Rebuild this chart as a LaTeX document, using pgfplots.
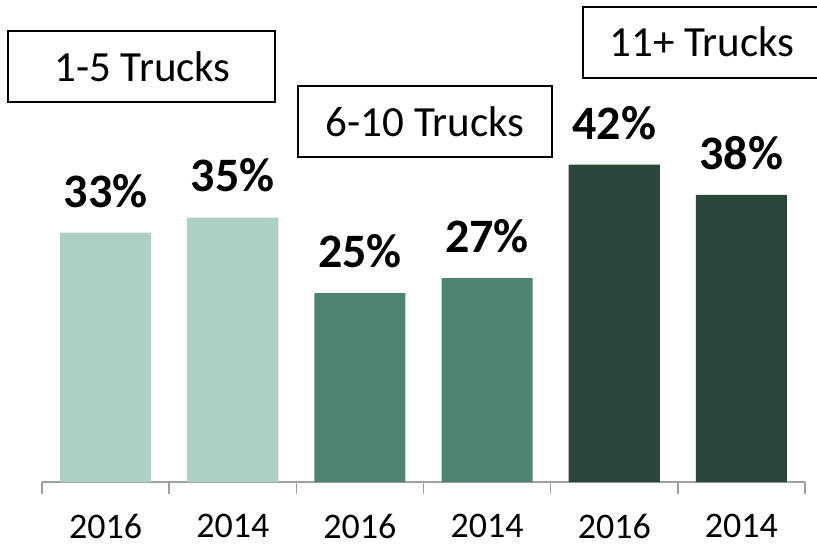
\documentclass[border=0pt]{standalone}
\usepackage{pgfplots}
\pgfplotsset{compat=1.18}
\usepackage{fontspec}
\setmainfont{Carlito}
\definecolor{cLight}{HTML}{AECFC3}
\definecolor{cMid}{HTML}{4E8570}
\definecolor{cDark}{HTML}{2B4539}
\definecolor{axgray}{HTML}{A0A0A0}
\begin{document}
\begin{tikzpicture}
\useasboundingbox (-42bp,-65bp) rectangle (775bp,482bp);
\begin{axis}[
  at={(0,0)}, anchor=south west,
  scale only axis, width=763bp, height=482bp,
  xmin=-0.5, xmax=5.5, ymin=0, ymax=63.8,
  axis x line*=bottom, axis y line=none,
  ytick=\empty,
  xtick={0,...,5},
  xticklabels={2016,2014,2016,2014,2016,2014},
  minor xtick={-0.5,0.5,...,5.5},
  major tick length=0pt, minor tick length=12bp,
  tick align=outside,
  x axis line style={draw=axgray, line width=1.5bp},
  minor tick style={draw=axgray, line width=1.5bp},
  xticklabel style={font=\fontsize{36bp}{36bp}\selectfont, inner sep=0pt, anchor=north, yshift=-32bp},
  clip=false,
  nodes near coords={\pgfmathprintnumber[assume math mode=true]{\pgfplotspointmeta}\%},
  every node near coord/.append style={font=\fontsize{48bp}{48bp}\selectfont\bfseries, inner sep=0pt, yshift=25bp, text=black},
]
\addplot[ybar, bar shift=0pt, bar width=0.716, fill=cLight, draw=none] coordinates {(0,33) (1,35)};
\addplot[ybar, bar shift=0pt, bar width=0.716, fill=cMid, draw=none] coordinates {(2,25) (3,27)};
\addplot[ybar, bar shift=0pt, bar width=0.716, fill=cDark, draw=none] coordinates {(4,42) (5,38)};
\end{axis}
\begin{scope}[every node/.style={font=\fontsize{43bp}{43bp}\selectfont, inner sep=0pt}]
\draw[line width=1.8bp] (-34bp,451bp) rectangle (233bp,380bp);
\node at (100.5bp,415bp) {1-5 Trucks};
\draw[line width=1.8bp] (256bp,396bp) rectangle (510bp,325bp);
\node at (383bp,360.5bp) {6-10 Trucks};
\draw[line width=1.8bp] (541bp,475bp) rectangle (782bp,404bp);
\node at (660bp,440bp) {11+ Trucks};
\end{scope}
\end{tikzpicture}
\end{document}
